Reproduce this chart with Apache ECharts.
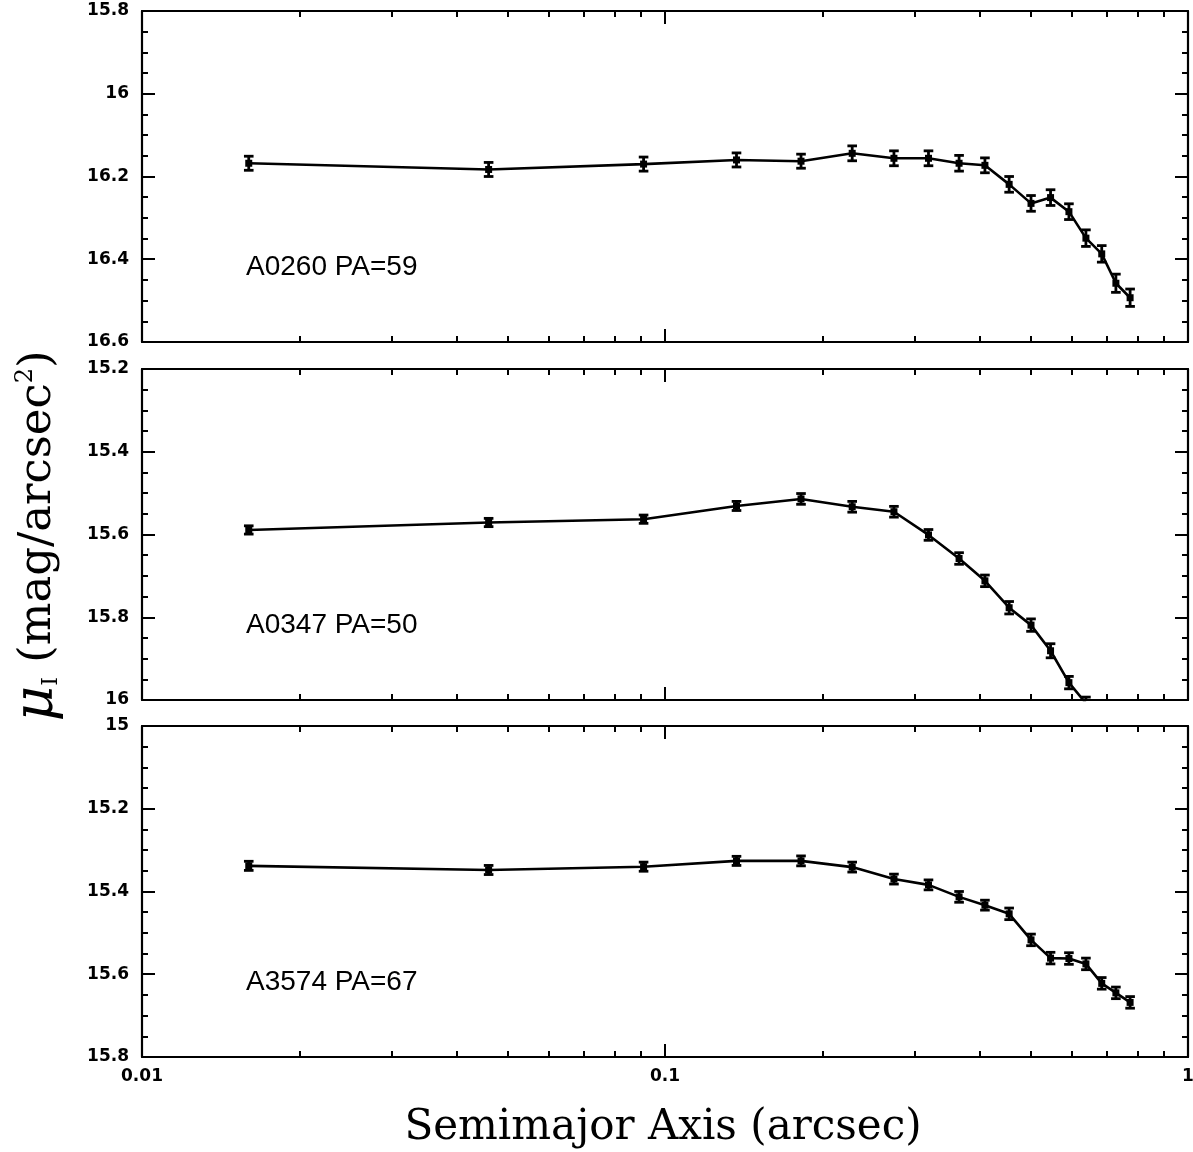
<!DOCTYPE html>
<html>
<head>
<meta charset="utf-8">
<script src="https://cdn.jsdelivr.net/npm/echarts/dist/echarts.min.js"></script>
<style>
  html, body { margin: 0; padding: 0; background: #fff; }
  #chart { width: 1193px; height: 1152px; }
</style>
</head>
<body>
<div id="chart"></div>
<script>
// Semimajor axis of each isophote (arcsec), shared by all three profiles
const semimajor = [0.016, 0.046, 0.091, 0.137, 0.182, 0.228, 0.274, 0.319, 0.365,
                   0.409, 0.455, 0.501, 0.546, 0.592, 0.638, 0.684, 0.728, 0.775];

// A0260, PA = 59
const muA0260 = [16.168, 16.183, 16.170, 16.160, 16.163, 16.144, 16.156, 16.156, 16.168,
                 16.173, 16.219, 16.265, 16.251, 16.285, 16.349, 16.387, 16.458, 16.493];
const errA0260 = [0.017, 0.017, 0.017, 0.017, 0.017, 0.018, 0.018, 0.018, 0.019,
                  0.018, 0.019, 0.019, 0.019, 0.019, 0.020, 0.020, 0.022, 0.021];

// A0347, PA = 50
const muA0347 = [15.589, 15.571, 15.563, 15.531, 15.514, 15.533, 15.545, 15.601, 15.658,
                 15.712, 15.777, 15.819, 15.881, 15.958, 16.008];
const errA0347 = [0.010, 0.010, 0.010, 0.011, 0.013, 0.013, 0.013, 0.013, 0.014,
                  0.014, 0.015, 0.015, 0.017, 0.015, 0.015];

// A3574, PA = 67
const muA3574 = [15.338, 15.348, 15.340, 15.326, 15.326, 15.341, 15.370, 15.384, 15.413,
                 15.433, 15.454, 15.517, 15.561, 15.562, 15.575, 15.622, 15.645, 15.668];
const errA3574 = [0.011, 0.011, 0.011, 0.011, 0.012, 0.012, 0.012, 0.012, 0.013,
                  0.012, 0.014, 0.014, 0.014, 0.014, 0.014, 0.014, 0.014, 0.014];

const panelLabels = ['A0260 PA=59', 'A0347 PA=50', 'A3574 PA=67'];
const yRanges = [[15.8, 16.6], [15.2, 16.0], [15.0, 15.8]];
const yStep = 0.2;

// Log-axis tick values
const xMajorTicks = [0.01, 0.1, 1];
const xMinorTicks = [0.02, 0.03, 0.04, 0.05, 0.06, 0.07, 0.08, 0.09,
                     0.2, 0.3, 0.4, 0.5, 0.6, 0.7, 0.8, 0.9];

const profiles = [
  { mu: muA0260, err: errA0260 },
  { mu: muA0347, err: errA0347 },
  { mu: muA3574, err: errA3574 }
];

const gridTops = [11, 369, 726];
const gridHeight = 331;
const INK = '#000';
const tickFont = { fontFamily: 'DejaVu Sans', fontWeight: 'bold', fontSize: 17, color: INK };

const grids = [], xAxes = [], yAxes = [], series = [], graphics = [];

profiles.forEach((p, i) => {
  grids.push({ left: 142, right: 5, top: gridTops[i], height: gridHeight,
               containLabel: false, outerBoundsMode: 'none' });

  const xBase = {
    type: 'log', logBase: 10, min: 0.01, max: 1, gridIndex: i,
    splitLine: { show: false }, minorTick: { show: false }, minorSplitLine: { show: false }
  };
  ['bottom', 'top'].forEach(pos => {
    // major ticks (and frame edge)
    xAxes.push(Object.assign({}, xBase, {
      position: pos,
      axisLine: { show: true, onZero: false, lineStyle: { color: INK, width: 2.2 } },
      axisTick: { show: true, inside: true, length: 13, lineStyle: { color: INK, width: 2 },
                  customValues: xMajorTicks },
      axisLabel: Object.assign({
        show: pos === 'bottom' && i === 2, margin: 11, customValues: xMajorTicks,
        showMinLabel: true, showMaxLabel: true,
        formatter: v => String(+(+v).toPrecision(3))
      }, tickFont)
    }));
    // minor ticks
    xAxes.push(Object.assign({}, xBase, {
      position: pos,
      axisLine: { show: false, onZero: false },
      axisTick: { show: true, inside: true, length: 6, lineStyle: { color: INK, width: 2 },
                  customValues: xMinorTicks },
      axisLabel: { show: false }
    }));
  });

  ['left', 'right'].forEach(pos => {
    yAxes.push({
      type: 'value', gridIndex: i, position: pos, inverse: true,
      min: yRanges[i][0], max: yRanges[i][1], interval: yStep,
      axisLine: { show: true, onZero: false, lineStyle: { color: INK, width: 2.2 } },
      axisTick: { show: true, inside: true, length: 13, lineStyle: { color: INK, width: 2 } },
      minorTick: { show: true, splitNumber: 4, length: 6, lineStyle: { color: INK, width: 2 } },
      splitLine: { show: false },
      axisLabel: Object.assign({ show: pos === 'left', margin: 13 }, tickFont)
    });
  });

  const pts = p.mu.map((m, k) => [semimajor[k], m]);
  const bars = p.mu.map((m, k) => [semimajor[k], m, p.err[k]]);

  series.push({
    type: 'line', xAxisIndex: i * 4, yAxisIndex: i * 2, data: pts,
    symbol: 'rect', symbolSize: 7, showSymbol: true, clip: true,
    lineStyle: { color: INK, width: 2.6 }, itemStyle: { color: INK },
    animation: false, z: 3
  });
  series.push({
    type: 'custom', xAxisIndex: i * 4, yAxisIndex: i * 2, data: bars, clip: true,
    encode: { x: 0, y: 1 }, animation: false, z: 4,
    renderItem: (params, api) => {
      const x = api.value(0), y = api.value(1), e = api.value(2);
      const a = api.coord([x, y - e]);
      const b = api.coord([x, y + e]);
      const w = 4.8;
      const st = { stroke: INK, lineWidth: 2.8 };
      return {
        type: 'group',
        children: [
          { type: 'line', shape: { x1: a[0], y1: a[1], x2: b[0], y2: b[1] }, style: st },
          { type: 'line', shape: { x1: a[0] - w, y1: a[1], x2: a[0] + w, y2: a[1] }, style: st },
          { type: 'line', shape: { x1: b[0] - w, y1: b[1], x2: b[0] + w, y2: b[1] }, style: st }
        ]
      };
    }
  });
});

// Galaxy / position-angle tags inside each panel
const labelCenters = [267, 625, 982];
panelLabels.forEach((t, i) => {
  graphics.push({
    type: 'text', x: 246, y: labelCenters[i],
    style: { text: t, fontFamily: 'Liberation Sans', fontSize: 28, fill: INK,
             align: 'left', verticalAlign: 'middle' }
  });
});

// Axis titles
graphics.push({
  type: 'text', x: 663, y: 1128,
  style: { text: 'Semimajor Axis (arcsec)', fontFamily: 'DejaVu Serif', fontSize: 42,
           fill: INK, align: 'center', verticalAlign: 'middle' }
});
graphics.push({
  type: 'text', x: 38, y: 536, rotation: Math.PI / 2,
  style: {
    text: '{mu|μ}{sub|I} (mag/arcsec{sup|2})',
    fontFamily: 'DejaVu Serif', fontSize: 45, fill: INK,
    align: 'center', verticalAlign: 'middle',
    rich: {
      mu: { fontFamily: 'DejaVu Serif', fontStyle: 'italic', fontSize: 55, fill: INK },
      sub: { fontFamily: 'DejaVu Serif', fontSize: 22, fill: INK, padding: [26, 0, 0, 0] },
      sup: { fontFamily: 'DejaVu Serif', fontSize: 24, fill: INK, padding: [0, 0, 24, 0] }
    }
  }
});

const chart = echarts.init(document.getElementById('chart'), null, { renderer: 'canvas' });
chart.setOption({
  backgroundColor: '#fff',
  animation: false,
  grid: grids,
  xAxis: xAxes,
  yAxis: yAxes,
  series: series,
  graphic: graphics
});
</script>
</body>
</html>
